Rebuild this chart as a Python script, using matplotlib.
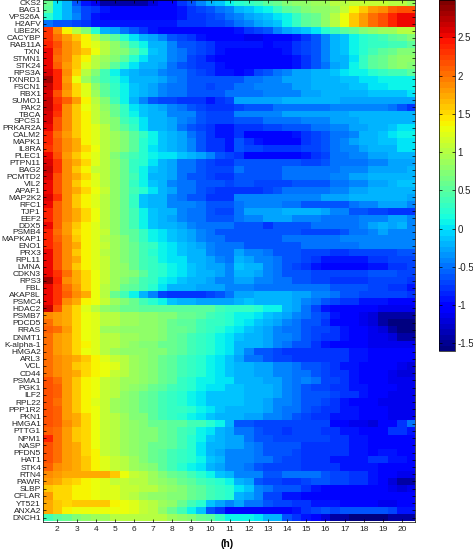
import numpy as np
import matplotlib
matplotlib.use('Agg')
import matplotlib.pyplot as plt

plt.rcParams['font.family'] = ['Liberation Sans', 'DejaVu Sans']

genes = ['CKS2', 'BAG1', 'VPS26A', 'H2AFV', 'UBE2K', 'CACYBP', 'RAB11A', 'TXN', 'STMN1', 'STK24',
         'RPS3A', 'TXNRD1', 'FSCN1', 'RBX1', 'SUMO1', 'PAK2', 'TBCA', 'SPCS1', 'PRKAR2A', 'CALM2',
         'MAPK1', 'IL8RA', 'PLEC1', 'PTPN11', 'BAG2', 'PCMTD2', 'VIL2', 'APAF1', 'MAP2K2', 'RFC1',
         'TJP1', 'EEF2', 'DDX5', 'PSMB4', 'MAPKAP1', 'ENO1', 'PRX3', 'RPL11', 'LMNA', 'CDKN3',
         'RPS3', 'FBL', 'AKAP8L', 'PSMC4', 'HDAC2', 'PSMB7', 'PDCD5', 'RRAS', 'DNMT1', 'K-alpha-1',
         'HMGA2', 'ARL3', 'VCL', 'CD44', 'PSMA1', 'PGK1', 'ILF2', 'RPL22', 'PPP1R2', 'PKN1',
         'HMGA1', 'PTTG1', 'NPM1', 'NASP', 'PFDN5', 'HAT1', 'STK4', 'RTN4', 'PAWR', 'SLBP',
         'CFLAR', 'YT521', 'ANXA2', 'DNCH1']

# hours, one column every half hour from 1.5 to 20.5
hours = np.arange(1.5, 20.51, 0.5)
hour_ticks = list(range(2, 21))
bar_ticks = [-1.5, -1, -0.5, 0, 0.5, 1, 1.5, 2, 2.5]
bar_labels = ['-1.5', '-1', '-0.5', '0', '0.5', '1', '1.5', '2', '2.5']

# one row per gene
levels = [
    [.6,0,-.2,-.6,-.9,-1.1,-1.4,-1.4,-1.4,-1.4,-1.4,-1.2,-1,-1,-.8,-.6,-.4,-.2,-.1,.1, .2,.3,.4,.5,.6,.7,.8,.8,.9,.9,1,1,1.1,1.1,1.1,1.1,1,1,.9],
    [.5,0,-.2,-.5,-.7,-.8,-.9,-1,-1,-1,-1,-1,-1,-1,-.9,-.8,-.7,-.6,-.5,-.4, -.2,-.1,0,.1,.3,.5,.6,.7,.8,.8,.9,1.1,1.4,1.6,1.8,1.9,2.1,2.2,2.2],
    [.2,0,-.2,-.4,-.7,-.9,-1,-1,-1,-1,-1,-1,-1,-1,-.9,-.8,-.8,-.7,-.6,-.5, -.4,-.3,-.2,-.1,0,.1,.3,.5,.6,.8,1,1.3,1.6,1.8,2,2.2,2.4,2.5,2.5],
    [-.5,-.6,-.6,-.7,-.8,-.9,-.9,-.9,-.9,-.9,-.9,-.9,-.9,-.9,-.8,-.8,-.8,-.7,-.7,-.6, -.5,-.4,-.3,-.2,-.1,.1,.3,.5,.6,.8,1,1.3,1.6,1.8,2,2.2,2.4,2.5,2.5],
    [2.3,1.9,1.4,1,.7,.2,-.2,-.3,-.5,-.6,-.8,-.9,-1,-1,-1,-1,-1,-1,-1,-1, -.9,-.8,-.7,-.6,-.4,-.3,-.2,-.1,0,.2,.4,.5,.6,.7,.8,.9,.9,1,1],
    [2.3,2,1.8,1.6,1.4,1,.7,.5,.2,0,-.2,-.3,-.4,-.6,-.7,-.8,-.9,-1,-1,-1, -1,-1.1,-1.1,-1,-1,-1,-.9,-.8,-.6,-.4,-.2,-.1,.1,.2,.3,.4,.5,.6,.7],
    [2.4,2.2,1.9,1.7,1.4,1.2,1,.8,.6,.3,.1,-.2,-.2,-.4,-.6,-.6,-.7,-.8,-.9,-.9, -.9,-.9,-.9,-1,-.9,-.9,-.8,-.7,-.6,-.4,-.2,-.1,.1,.2,.3,.3,.4,.4,.5],
    [2.5,2.1,1.9,1.7,1.6,1.3,1,.8,.7,.5,.2,-.1,-.2,-.4,-.5,-.6,-.7,-.8,-.9,-1, -1,-1,-1,-1,-1,-.9,-.8,-.7,-.6,-.4,-.2,-.1,.1,.2,.4,.5,.6,.7,.7],
    [2.5,2,1.9,1.6,1.4,1,.9,.7,.5,.2,0,-.2,-.2,-.4,-.5,-.7,-.8,-.9,-1,-1, -1,-1,-1,-1,-1,-1,-.9,-.8,-.6,-.4,-.2,-.2,0,.3,.5,.6,.7,.8,.8],
    [2.5,2.1,1.8,1.6,1.2,1,.8,.5,.2,0,-.2,-.2,-.3,-.5,-.6,-.7,-.8,-.8,-.9,-1, -1,-1,-1,-1,-1,-1,-.9,-.8,-.6,-.5,-.3,-.2,.1,.3,.5,.6,.7,.8,.7],
    [2.6,2.4,1.9,1.5,1,.7,.4,.1,-.1,-.2,-.3,-.3,-.4,-.5,-.5,-.6,-.7,-.8,-.9,-.9, -1,-.9,-.7,-.6,-.5,-.4,-.3,-.3,-.2,-.2,-.1,0,.1,.1,.2,.3,.4,.4,.5],
    [2.8,2.4,1.8,1.3,.9,.6,.4,.2,0,-.2,-.2,-.2,-.3,-.4,-.5,-.6,-.6,-.6,-.6,-.6, -.6,-.5,-.5,-.4,-.4,-.3,-.3,-.3,-.2,-.2,-.2,-.1,-.1,0,0,.1,.1,.1,.1],
    [2.7,2.4,1.9,1.5,1.2,.8,.5,.3,.1,-.1,-.2,-.3,-.4,-.5,-.5,-.6,-.6,-.7,-.6,-.6, -.5,-.5,-.4,-.4,-.4,-.4,-.3,-.3,-.2,-.2,-.2,-.2,-.1,-.1,0,0,.1,.1,.1],
    [2.6,2.2,1.8,1.5,1.2,.9,.5,.3,.1,-.1,-.2,-.3,-.4,-.5,-.5,-.6,-.6,-.6,-.6,-.5, -.5,-.5,-.5,-.4,-.4,-.4,-.4,-.3,-.3,-.2,-.2,-.2,-.2,-.2,-.1,-.1,-.1,-.1,0],
    [2.7,2.3,2.1,1.8,1.4,1,.7,.4,.1,-.2,-.4,-.6,-.7,-.7,-.8,-.8,-.8,-.9,-.8,-.7, -.3,-.3,-.3,-.3,-.3,-.2,-.2,-.2,-.2,-.2,-.2,-.3,-.3,-.3,-.3,-.3,-.3,-.3,-.3],
    [2.7,2.4,1.9,1.6,1.3,1.1,.8,.6,.3,0,-.1,-.2,-.3,-.4,-.5,-.6,-.7,-.8,-.8,-.8, -.7,-.6,-.6,-.6,-.5,-.5,-.5,-.5,-.5,-.5,-.4,-.4,-.4,-.4,-.4,-.4,-.5,-.6,-.8],
    [2.6,2.3,1.9,1.6,1.4,1.1,.9,.6,.3,.1,-.1,-.2,-.2,-.4,-.4,-.4,-.6,-.7,-.7,-.7, -.4,-.4,-.4,-.4,-.4,-.3,-.3,-.3,-.3,-.3,-.3,-.3,-.2,-.2,-.2,-.2,-.2,-.2,-.2],
    [2.6,2.2,1.9,1.6,1.4,1.1,.9,.7,.4,.2,0,-.2,-.2,-.3,-.4,-.5,-.6,-.7,-.7,-.7, -.6,-.6,-.6,-.5,-.5,-.5,-.5,-.4,-.4,-.4,-.3,-.3,-.3,-.2,-.2,-.2,-.2,-.2,-.2],
    [2.5,2.2,1.9,1.6,1.4,1.2,1,.7,.5,.3,0,-.2,-.2,-.3,-.5,-.6,-.7,-.8,-.9,-.9, -.8,-.8,-.8,-.7,-.7,-.6,-.6,-.6,-.5,-.5,-.4,-.4,-.3,-.3,-.2,-.2,-.1,0,0],
    [2.4,2,1.8,1.6,1.4,1.2,1,.9,.7,.5,.3,.1,-.1,-.2,-.3,-.5,-.6,-.8,-.9,-.9, -.8,-1,-1,-1,-1,-1,-.9,-.8,-.7,-.6,-.5,-.5,-.4,-.2,-.2,-.1,0,.1,.1],
    [2.4,2.1,1.9,1.7,1.4,1.2,1,.9,.7,.5,.2,.1,-.1,-.2,-.3,-.4,-.6,-.8,-.8,-.9, -.6,-.8,-.9,-1,-1,-1,-1,-.8,-.7,-.6,-.5,-.4,-.3,-.2,-.2,-.1,-.1,0,0],
    [2.3,2.1,1.9,1.7,1.5,1.3,1,.9,.7,.5,.2,0,-.1,-.2,-.3,-.4,-.6,-.8,-.8,-.9, -.6,-.7,-.7,-.8,-.8,-.8,-.8,-.7,-.7,-.6,-.5,-.4,-.4,-.3,-.2,-.2,-.2,0,0],
    [2.5,2.2,1.8,1.6,1.4,1.2,1,.7,.5,.4,.2,.1,0,0,-.1,-.2,-.3,-.4,-.6,-.7, -.8,-1,-1,-1,-1,-1,-1,-.9,-.8,-.7,-.5,-.5,-.4,-.4,-.3,-.3,-.2,-.2,-.2],
    [2.6,2.3,1.9,1.7,1.5,1.2,1,.8,.6,.3,.2,0,-.2,-.3,-.5,-.5,-.6,-.7,-.8,-.8, -.6,-.6,-.6,-.6,-.6,-.6,-.6,-.7,-.7,-.6,-.5,-.5,-.5,-.5,-.4,-.4,-.3,-.3,-.3],
    [2.7,2.3,1.9,1.6,1.4,1.1,1,.8,.6,.3,.1,-.1,-.2,-.3,-.5,-.5,-.6,-.7,-.7,-.7, -.5,-.6,-.6,-.6,-.6,-.5,-.5,-.5,-.5,-.5,-.5,-.4,-.4,-.4,-.3,-.3,-.3,-.3,-.2],
    [2.6,2.2,1.9,1.7,1.5,1.2,1,.8,.6,.4,.1,-.2,-.2,-.3,-.5,-.6,-.6,-.7,-.8,-.8, -.6,-.6,-.6,-.6,-.6,-.5,-.5,-.5,-.5,-.5,-.4,-.4,-.3,-.3,-.2,-.2,-.2,-.2,-.2],
    [2.5,2.2,1.9,1.6,1.4,1.2,1,.8,.6,.3,.1,-.1,-.2,-.4,-.5,-.5,-.6,-.6,-.6,-.7, -.6,-.6,-.7,-.7,-.7,-.7,-.6,-.6,-.6,-.6,-.5,-.5,-.4,-.4,-.3,-.3,-.2,-.1,-.1],
    [2.5,2.2,1.9,1.7,1.5,1.3,1.1,.8,.6,.4,.2,0,-.2,-.3,-.5,-.5,-.6,-.7,-.8,-.8, -.8,-.8,-.8,-.7,-.6,-.5,-.5,-.5,-.5,-.5,-.4,-.4,-.3,-.3,-.2,-.2,-.2,-.2,-.2],
    [2.6,2.3,1.9,1.6,1.4,1.2,1,.8,.6,.3,-.1,-.2,-.2,-.4,-.5,-.6,-.6,-.8,-.8,-.8, -.4,-.4,-.4,-.4,-.4,-.4,-.4,-.4,-.4,-.3,-.3,-.3,-.2,-.2,-.2,-.2,-.2,-.2,-.3],
    [2.5,2.1,1.9,1.6,1.4,1.2,1,.8,.6,.3,-.1,-.2,-.2,-.4,-.4,-.4,-.5,-.6,-.6,-.6, -.5,-.4,-.4,-.4,-.4,-.5,-.5,-.6,-.6,-.6,-.6,-.6,-.5,-.4,-.4,-.3,-.3,-.3,-.4],
    [2.4,2.1,1.9,1.7,1.5,1.3,1,.8,.6,.4,.1,-.1,-.2,-.2,-.4,-.5,-.5,-.6,-.7,-.7, -.5,-.3,-.3,-.3,-.3,-.2,-.2,-.2,-.2,-.3,-.4,-.4,-.6,-.6,-.7,-.7,-.8,-.8,-.8],
    [2.4,2.1,1.9,1.7,1.5,1.3,1,.8,.6,.4,.1,-.1,-.2,-.3,-.4,-.5,-.5,-.6,-.6,-.6, -.5,-.4,-.4,-.3,-.3,-.3,-.4,-.4,-.4,-.5,-.5,-.5,-.5,-.4,-.4,-.4,-.3,-.3,-.4],
    [2.5,2.1,1.8,1.6,1.4,1.2,1,.8,.6,.4,.1,-.1,-.2,-.2,-.3,-.4,-.5,-.5,-.5,-.5, -.6,-.6,-.6,-.8,-.6,-.6,-.6,-.6,-.5,-.5,-.5,-.5,-.5,-.4,-.3,-.2,-.3,-.2,-.4],
    [2.4,2,1.8,1.5,1.4,1.2,1.1,.8,.6,.5,.3,.1,0,-.1,-.2,-.3,-.4,-.5,-.6,-.6, -.6,-.6,-.6,-.6,-.6,-.6,-.6,-.7,-.7,-.7,-.7,-.6,-.5,-.5,-.4,-.3,-.4,-.4,-.4],
    [2.4,2.1,1.9,1.6,1.4,1.2,1,.9,.7,.5,.3,.1,0,-.1,-.2,-.3,-.4,-.5,-.5,-.6, -.6,-.6,-.6,-.6,-.6,-.5,-.5,-.5,-.5,-.5,-.5,-.4,-.4,-.4,-.4,-.4,-.4,-.4,-.4],
    [2.4,2.2,1.9,1.7,1.4,1.2,1.1,.9,.7,.6,.4,.3,.1,0,-.1,-.2,-.3,-.4,-.5,-.5, -.5,-.6,-.6,-.6,-.6,-.6,-.6,-.5,-.5,-.5,-.5,-.5,-.5,-.4,-.4,-.4,-.4,-.4,-.4],
    [2.5,2.2,1.9,1.6,1.4,1.2,1,.9,.7,.6,.4,.2,.1,0,-.1,-.2,-.2,-.4,-.5,-.5, -.3,-.4,-.4,-.5,-.6,-.6,-.6,-.7,-.7,-.7,-.8,-.8,-.7,-.7,-.7,-.7,-.7,-.6,-.6],
    [2.5,2.2,1.9,1.7,1.4,1.2,1.1,.9,.7,.6,.4,.3,.1,0,0,-.2,-.2,-.3,-.4,-.5, -.2,-.3,-.4,-.4,-.5,-.6,-.6,-.7,-.8,-.9,-.9,-.9,-.9,-.9,-.8,-.8,-.7,-.7,-.7],
    [2.5,2.2,1.9,1.6,1.4,1.2,1.1,.9,.8,.6,.4,.3,.2,.1,0,-.1,-.2,-.3,-.3,-.4, -.1,-.2,-.2,-.4,-.5,-.6,-.7,-.8,-.9,-1,-1,-1,-1,-1,-.9,-.9,-.8,-.8,-.7],
    [2.5,2.3,2,1.7,1.5,1.3,1.1,.9,.8,.7,.5,.3,.2,.1,0,-.1,-.2,-.2,-.3,-.4, -.2,-.2,-.3,-.4,-.5,-.6,-.6,-.6,-.7,-.7,-.7,-.7,-.7,-.7,-.6,-.6,-.6,-.7,-.7],
    [2.8,2.4,1.9,1.7,1.5,1.3,1.1,.9,.7,.6,.4,.3,.1,0,-.1,-.2,-.2,-.3,-.4,-.4, -.3,-.3,-.4,-.4,-.5,-.5,-.6,-.6,-.7,-.7,-.8,-.8,-.8,-.8,-.7,-.7,-.7,-.7,-.8],
    [2.5,2.3,2,1.8,1.5,1.3,1,.9,.6,.5,.4,.2,0,-.2,-.2,-.2,-.3,-.3,-.3,-.4, -.4,-.4,-.5,-.5,-.5,-.5,-.5,-.5,-.5,-.5,-.6,-.6,-.6,-.6,-.7,-.7,-.8,-.8,-.9],
    [2.5,2.3,2.1,1.9,1.7,1.3,1,.6,.4,.1,-.2,-.4,-.7,-.8,-.8,-.8,-.8,-.7,-.6,-.5, -.3,-.3,-.2,-.2,-.2,-.2,-.3,-.3,-.4,-.4,-.5,-.6,-.6,-.7,-.7,-.7,-.7,-.7,-.8],
    [2.5,2.3,1.9,1.7,1.4,1.3,1.1,.9,.7,.6,.4,.2,.1,-.1,-.2,-.2,-.3,-.3,-.3,-.3, -.2,-.1,-.2,-.2,-.2,-.2,-.3,-.4,-.5,-.6,-.7,-.8,-.8,-.9,-.9,-.9,-1,-1,-1],
    [2.7,2.2,1.7,1.5,1.2,1,.8,.7,.6,.6,.5,.5,.5,.5,.5,.5,.5,.5,.4,.3, .3,.3,.2,.1,.1,-.2,-.3,-.5,-.7,-.9,-1,-1,-1,-1,-1,-1.1,-1.1,-1.1,-1.1],
    [1.9,1.8,1.7,1.5,1.3,1.2,1,1,.9,.9,.8,.8,.7,.7,.6,.6,.5,.4,.3,.2, .1,.1,0,-.1,-.2,-.3,-.4,-.5,-.6,-.7,-.9,-1,-1,-1.1,-1.2,-1.4,-1.4,-1.4,-1.4],
    [2,1.8,1.7,1.5,1.3,1.2,1,1,.9,.9,.8,.8,.7,.6,.5,.5,.4,.3,.3,.2, .1,0,-.1,-.2,-.3,-.4,-.5,-.6,-.6,-.8,-1,-1,-1,-1.1,-1.2,-1.4,-1.6,-1.6,-1.6],
    [2.1,2,1.8,1.5,1.3,1.2,.9,.9,.8,.8,.8,.8,.7,.6,.6,.5,.4,.3,.2,.1, 0,-.1,-.2,-.3,-.4,-.5,-.5,-.6,-.7,-.7,-.8,-.9,-1,-1,-1.1,-1.2,-1.4,-1.6,-1.6],
    [2,1.8,1.7,1.5,1.3,1.2,1,1,.9,.9,.8,.8,.7,.6,.5,.4,.3,.2,.1,0, -.1,-.2,-.2,-.3,-.4,-.4,-.5,-.6,-.7,-.8,-.8,-.9,-1,-1,-1.1,-1.1,-1.2,-1.4,-1.4],
    [2,1.8,1.7,1.5,1.4,1.2,1,1,.9,.8,.7,.7,.6,.6,.5,.4,.3,.2,.1,0, -.2,-.2,-.2,-.3,-.4,-.5,-.6,-.6,-.8,-.9,-1,-1,-1,-1,-1.1,-1.1,-1.1,-1.1,-1.1],
    [2,1.8,1.7,1.5,1.3,1.2,1,.9,.8,.8,.8,.7,.7,.6,.5,.4,.3,.2,.1,0, -.2,-.4,-.6,-.6,-.7,-.8,-.8,-.8,-.8,-.8,-.8,-.8,-.9,-.9,-1,-1,-1,-1,-1],
    [2,1.9,1.8,1.7,1.6,1.4,1.2,1.1,1,.9,.8,.7,.6,.5,.4,.3,.2,.1,0,-.1, -.3,-.5,-.5,-.6,-.7,-.7,-.8,-.8,-.8,-.8,-.8,-.8,-.9,-.9,-1,-1,-1,-1,-1],
    [2,1.9,1.8,1.6,1.5,1.4,1.3,1.2,1,.9,.8,.7,.6,.5,.4,.3,.2,.1,0,-.1, -.2,-.2,-.3,-.3,-.4,-.4,-.5,-.6,-.6,-.7,-.8,-.9,-.9,-1,-1,-1,-1,-1.1,-1.2],
    [2,1.9,1.8,1.7,1.5,1.4,1.3,1.1,1,.9,.8,.7,.6,.5,.4,.3,.2,.1,0,-.1, -.2,-.2,-.3,-.3,-.4,-.4,-.5,-.5,-.6,-.7,-.8,-.8,-.9,-1,-1,-1,-1.1,-1.2,-1.2],
    [2.2,2,1.8,1.6,1.4,1.3,1.1,1,.9,.9,.8,.7,.6,.5,.3,.2,.1,.1,0,0, -.2,-.2,-.2,-.3,-.3,-.4,-.5,-.4,-.5,-.7,-.7,-.8,-.9,-1,-1,-1,-1.1,-1.1,-1.1],
    [2.2,2.1,1.8,1.6,1.4,1.3,1.1,1,.9,.8,.7,.6,.5,.4,.3,.2,.1,0,0,-.1, -.1,-.2,-.2,-.2,-.3,-.4,-.5,-.6,-.7,-.7,-.8,-.8,-.9,-.9,-1,-1,-1,-1.1,-1.1],
    [2.2,2.1,1.8,1.6,1.4,1.3,1.1,1,.8,.7,.6,.5,.4,.3,.2,.1,0,-.1,-.1,-.1, -.1,-.2,-.2,-.2,-.3,-.4,-.5,-.6,-.6,-.6,-.7,-.8,-.8,-.9,-1,-1,-1.1,-1.1,-1.1],
    [2.2,2,1.8,1.6,1.4,1.2,1.1,.9,.8,.7,.6,.5,.4,.3,.2,.1,0,-.1,-.1,-.1, -.1,-.2,-.2,-.3,-.4,-.4,-.5,-.6,-.6,-.7,-.8,-.9,-1,-1,-1,-1.1,-1.1,-1.1,-1.1],
    [2.2,2.1,1.8,1.6,1.4,1.3,1.1,.9,.8,.7,.6,.5,.4,.3,.3,.2,.1,0,-.1,-.2, -.2,-.2,-.2,-.3,-.4,-.5,-.5,-.6,-.7,-.8,-.8,-.9,-.9,-1,-1,-1,-1.1,-1.1,-1.1],
    [2.2,2.1,1.8,1.7,1.5,1.3,1.1,1,.9,.7,.7,.5,.4,.3,.2,.1,0,-.1,-.2,-.2, -.2,-.3,-.3,-.4,-.4,-.5,-.6,-.7,-.8,-.8,-.9,-.9,-.9,-1,-1,-1,-1.1,-1.1,-1.1],
    [2.2,2.1,1.9,1.7,1.5,1.3,1.1,1,.9,.8,.7,.6,.6,.5,.5,.4,.4,.2,.1,-.2, -.6,-.6,-.7,-.7,-.7,-.7,-.7,-.7,-.7,-.7,-1,-1,-1.1,-1.1,-1.2,-1,-1,-.8,-.5],
    [2.1,2,1.8,1.6,1.5,1.3,1.1,1,.9,.8,.7,.7,.6,.5,.4,.3,.1,0,-.2,-.3, -.5,-.5,-.6,-.7,-.7,-.8,-.7,-.7,-.7,-.8,-.8,-.9,-.9,-1,-1,-1,-.8,-.8,-.9],
    [2.4,2,1.8,1.6,1.5,1.3,1.1,1,.9,.8,.7,.7,.6,.5,.4,.2,.1,-.1,-.2,-.3, -.3,-.5,-.6,-.6,-.7,-.7,-.7,-.7,-.7,-.7,-.8,-.8,-.9,-.9,-1,-1,-1,-1,-1],
    [2.2,2,1.8,1.7,1.5,1.3,1.1,1,.9,.8,.7,.6,.6,.5,.4,.2,0,-.2,-.2,-.3, -.3,-.4,-.5,-.6,-.6,-.6,-.6,-.8,-.8,-.8,-.8,-.8,-.9,-.9,-1,-1,-1,-1,-1],
    [2.2,2,1.8,1.7,1.5,1.4,1.1,1,.9,.8,.7,.6,.5,.4,.3,.2,0,-.2,-.3,-.4, -.4,-.4,-.5,-.6,-.6,-.6,-.7,-.8,-.8,-.8,-.8,-.8,-.9,-.9,-1,-.9,-.9,-1,-1],
    [2.2,2,1.8,1.7,1.6,1.4,1.2,1.1,1,.9,.7,.6,.5,.4,.3,.2,.1,-.1,-.2,-.4, -.4,-.4,-.5,-.5,-.6,-.7,-.7,-.8,-.8,-.8,-.9,-.9,-.9,-.9,-.8,-.8,-.9,-.9,-1],
    [2.1,1.9,1.8,1.7,1.6,1.4,1.2,1.1,1,.9,.8,.7,.5,.4,.2,.1,0,-.2,-.3,-.4, -.4,-.5,-.6,-.7,-.7,-.7,-.7,-.8,-.8,-.8,-.8,-.9,-.9,-.9,-.9,-1,-1,-1,-1],
    [1.9,1.8,1.7,1.7,1.7,1.7,1.7,1.6,1.3,1.1,1,.9,.7,.6,.5,.4,.2,.1,-.1,-.2, -.4,-.4,-.4,-.6,-.6,-.5,-.5,-.5,-.5,-.6,-.7,-.7,-.8,-.8,-.9,-1,-1,-1.1,-1.1],
    [1.8,1.7,1.6,1.5,1.4,1.3,1.2,1.1,1.1,1,1,.9,.8,.7,.6,.5,.4,.3,.2,.1, -.2,-.3,-.6,-.7,-.7,-.8,-.8,-.7,-.6,-.6,-.7,-.7,-.8,-.8,-.9,-1,-1.2,-1.4,-1.4],
    [1.6,1.5,1.5,1.4,1.4,1.3,1.2,1.2,1.1,1.1,1,1,.9,.8,.7,.6,.5,.4,.3,.2, 0,-.1,-.4,-.5,-.6,-.6,-.6,-.8,-.9,-1,-1,-1,-1,-1,-1,-1,-1.1,-1.2,-1.1],
    [1.8,1.5,1.5,1.4,1.4,1.3,1.2,1.2,1.1,1,.9,.8,.8,.7,.7,.6,.5,.4,.3,.2, -.2,-.3,-.4,-.7,-.7,-.9,-.9,-1,-1,-1,-1,-1,-1,-1,-1,-1,-1,-1,-1],
    [1.7,1.6,1.5,1.6,1.6,1.6,1.6,1.4,1.3,1.2,1.1,1,.9,.8,.6,.4,.2,-.1,-.3,-.4, -.3,-.5,-.5,-.6,-.7,-.7,-.8,-.8,-.9,-.9,-.9,-1,-1,-1,-1,-1.1,-1.1,-1,-1],
    [1.7,1.6,1.4,1.3,1.3,1.3,1.3,1.3,1.3,1.2,1.1,1,.8,.6,.4,.1,-.1,-.6,-.8,-1, -1,-1,-1,-1,-1,-1,-.9,-.8,-.7,-.6,-.7,-.6,-.6,-.6,-.6,-.6,-.7,-.9,-.9],
    [.4,.5,.6,.7,.8,.9,.9,1,1,1,1,1,1,.9,.8,.7,.6,.5,.3,.1, .1,.1,0,-.2,-.2,-.6,-.8,-.9,-1,-1.2,-1.4,-1.4,-1.6,-1.6,-1.6,-1.6,-1.4,-1.4,-1.4],
]

heat = np.array(levels)

W, H = 473, 551
fig = plt.figure(figsize=(W / 100, H / 100), dpi=100)
ax = fig.add_axes([43 / W, 1 - 521.5 / H, 372 / W, 521.5 / H])
cax = fig.add_axes([439 / W, 1 - 351 / H, 16 / W, 351 / H])

cmap = plt.get_cmap('jet', 64)
vmin, vmax = -1.6, 2.99

# rows in the upper block are a bit thinner than in the lower one
heights = np.array([6.94] * 45 + [7.22] * 29)
y_edges = np.concatenate([[-0.5], np.cumsum(heights) - 0.5])
y_mid = (y_edges[:-1] + y_edges[1:]) / 2
x_edges = np.concatenate([hours - 0.25, [hours[-1] + 0.25]])

mesh = ax.pcolormesh(x_edges, y_edges, heat, cmap=cmap, vmin=vmin, vmax=vmax)
ax.set_xlim(1.25, 20.68)
ax.set_ylim(521.5, 0)
ax.set_xticks(hour_ticks)
ax.set_xticklabels([str(h) for h in hour_ticks], fontsize=6, color='#222222')
ax.set_yticks(y_mid)
ax.set_yticklabels(genes, fontsize=6, color='#222222')
ax.tick_params(axis='x', direction='in', length=2.5, width=0.5, top=True, pad=3.5)
ax.tick_params(axis='y', direction='in', length=2.5, width=0.5, right=True, pad=1.5)
for s in ax.spines.values():
    s.set_linewidth(0.5)

cb = fig.colorbar(mesh, cax=cax)
cb.set_ticks(bar_ticks)
cb.set_ticklabels(bar_labels)
cb.ax.tick_params(direction='in', length=2.5, width=0.5, left=True, right=True, labelsize=7,
                  labelcolor='#222222', pad=2)
cb.outline.set_linewidth(0.5)

fig.text(227 / W, 1 - 544 / H, '(h)', fontsize=7.5, fontweight='bold', ha='center', va='center')

fig.savefig('out.png', dpi=100)
